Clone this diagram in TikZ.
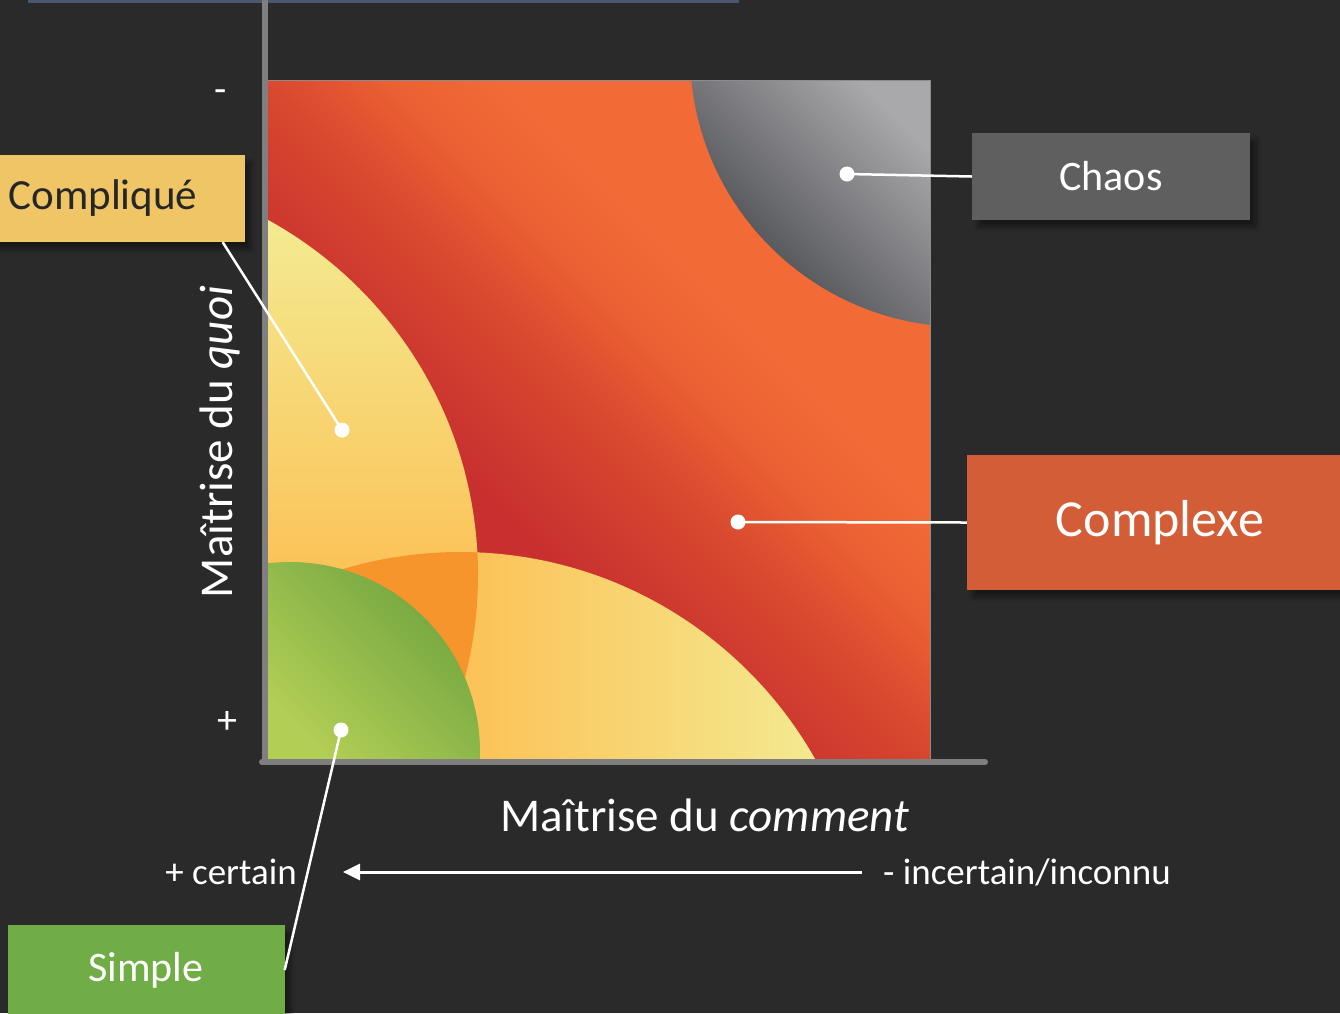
\documentclass[tikz,border=0pt]{standalone}
\usepackage{fontspec}
\setmainfont{Carlito}
\usetikzlibrary{arrows.meta,shadows.blur}
\definecolor{bgdark}{HTML}{2A2A2A}
\definecolor{topline}{HTML}{4C566E}
\definecolor{axisgray}{HTML}{7F7F7F}
\definecolor{bgA}{HTML}{C8302F}
\definecolor{bgB}{HTML}{D8472F}
\definecolor{bgC}{HTML}{EC6133}
\definecolor{bgD}{HTML}{F26B36}
\definecolor{ylPale}{HTML}{F3EB92}
\definecolor{ylGold}{HTML}{FCC156}
\definecolor{ovOrange}{HTML}{F5952C}
\definecolor{grLight}{HTML}{B3CE55}
\definecolor{grDark}{HTML}{6DA33F}
\definecolor{gyLight}{HTML}{A9A9AC}
\definecolor{gyDark}{HTML}{3E3F43}
\definecolor{chaosBox}{HTML}{5F5F5F}
\definecolor{complBox}{HTML}{F0C566}
\definecolor{complexBox}{HTML}{D35D37}
\definecolor{simpleBox}{HTML}{70AD47}
\definecolor{darktext}{HTML}{262626}
\pgfdeclareverticalshading{bgdiag}{100bp}{color(0bp)=(bgA); color(40bp)=(bgA); color(50bp)=(bgB); color(57bp)=(bgC); color(63bp)=(bgD); color(100bp)=(bgD)}
\begin{document}
\begin{tikzpicture}[x=1pt,y=-1pt,
  labelbox/.style={rectangle, inner sep=0pt, text=white,
    blur shadow={shadow xshift=6pt, shadow yshift=-7pt, shadow opacity=45, shadow blur steps=8, shadow blur radius=5pt}},
  dot/.style={circle, fill=white, inner sep=0pt, minimum size=15pt},
  conn/.style={draw=white, line width=2.5pt},
  axislbl/.style={text=white, inner sep=0pt, font=\fontsize{47pt}{56pt}\selectfont},
  smalllbl/.style={text=white, inner sep=0pt, font=\fontsize{37pt}{44pt}\selectfont},
  axisline/.style={draw=axisgray, line width=6pt}
]
\useasboundingbox (0,0) rectangle (1340,1013);
\fill[bgdark] (0,0) rectangle (1340,1013);
% top line
\draw[topline, line width=3pt] (28,1) -- (739,1);

% matrix square
\begin{scope}
  \clip (268,80) rectangle (930,760);
  \shade[shading=bgdiag, shading angle=-45] (268,80) rectangle (930,760);
  % upper yellow (Complique)
  \begin{scope}
    \clip (73,575) circle (405);
    \shade[top color=ylPale, bottom color=ylGold] (268,215) rectangle (485,585);
  \end{scope}
  % lower yellow
  \begin{scope}
    \clip (460,960) circle (408);
    \shade[left color=ylGold, right color=ylPale] (460,545) rectangle (830,765);
  \end{scope}
  % overlap
  \begin{scope}
    \clip (73,575) circle (405);
    \fill[ovOrange] (460,960) circle (408);
  \end{scope}
  % green (Simple)
  \begin{scope}
    \clip (290,752) circle (190);
    \shade[top color=grDark, bottom color=grLight, shading angle=-45] (268,560) rectangle (482,762);
  \end{scope}
  % gray (Chaos)
  \begin{scope}
    \clip (964,53) circle (274);
    \shade[top color=gyLight, bottom color=gyDark, shading angle=-45] (688,78) rectangle (932,328);
  \end{scope}
\end{scope}
\draw[draw=black!45, line width=0.8pt] (268,80) -- (930,80) -- (930,760);

% axes
\draw[axisline] (265,0) -- (265,762);
\draw[axisline, line cap=round] (262,762) -- (985,762);

% axis labels
\node[axislbl, rotate=90] (ylab) at (220,442) {Maîtrise du \textit{quoi}};
\node[axislbl] (xlab) at (705,815) {Maîtrise du \textit{comment}};
\node[smalllbl, font=\fontsize{40pt}{48pt}\selectfont] (ymin) at (221,96) {-};
\node[smalllbl, font=\fontsize{40pt}{48pt}\selectfont] (yplus) at (227,722) {+};
\node[smalllbl] (certain) at (231,872) {+ certain};
\node[smalllbl] (incertain) at (1027,872) {- incertain/inconnu};
\coordinate (arrR) at (862,872);
\coordinate (arrL) at (343,872);
\draw[draw=white, line width=3pt, -{Triangle[length=17pt,width=16pt]}] (arrR) -- (arrL);

% boxes
\node[labelbox, fill=chaosBox, minimum width=278pt, minimum height=87pt,
  font=\fontsize{42pt}{50pt}\selectfont] (chaos) at (1111,176.5) {Chaos};
\node[labelbox, fill=complBox, text=darktext, minimum width=283pt, minimum height=87pt,
  font=\fontsize{43pt}{50pt}\selectfont] (compl) at (103,198.5) {Compliqué};
\node[labelbox, fill=complexBox, minimum width=386pt, minimum height=135pt,
  font=\fontsize{52pt}{62pt}\selectfont] (complexe) at (1160,522.5) {Complexe};
\node[labelbox, fill=simpleBox, minimum width=277pt, minimum height=90pt,
  font=\fontsize{42pt}{50pt}\selectfont] (simple) at (146,970) {Simple};

% dots
\node[dot] (dchaos) at (847,174) {};
\node[dot] (dcompl) at (342,430) {};
\node[dot] (dcomplexe) at (738,522) {};
\node[dot] (dsimple) at (341,730) {};

% connectors
\draw[conn] (dchaos.center) -- (chaos.west);
\draw[conn] ([xshift=-22pt]compl.south east) -- (dcompl.center);
\draw[conn] (dcomplexe.center) -- (complexe.west);
\draw[conn] (simple.east) -- (dsimple.center);
\end{tikzpicture}
\end{document}
